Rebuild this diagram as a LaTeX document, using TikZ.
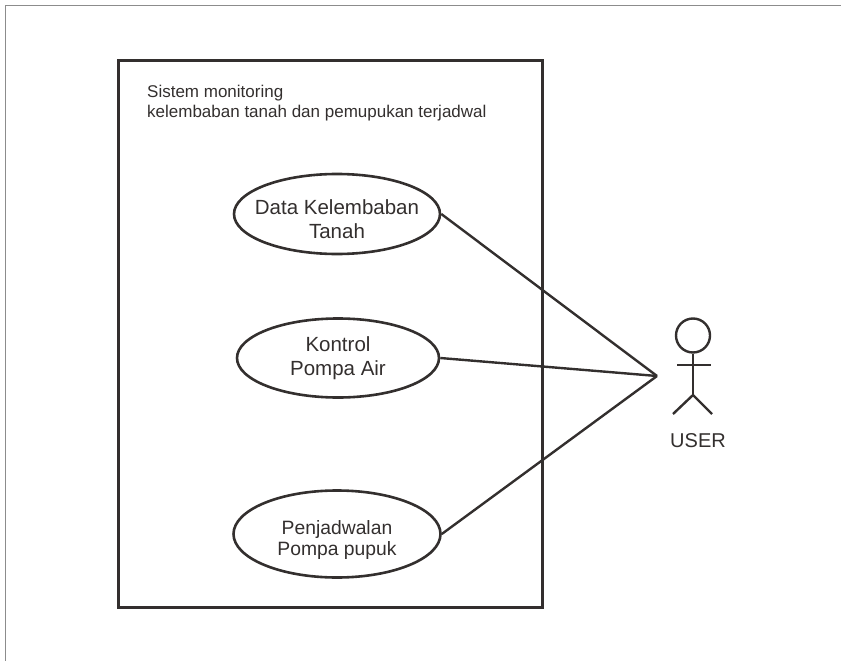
\documentclass[tikz,border=0pt]{standalone}
\usepackage{fontspec}
\setmainfont{Liberation Sans}
\usetikzlibrary{shapes.geometric}
\definecolor{inkline}{HTML}{332F2E}
\begin{document}
\begin{tikzpicture}[x=1pt,y=-1pt,
usecase/.style={draw=inkline,ellipse,line width=2.6pt,minimum width=#1,align=center,text=inkline,font=\fontsize{20.5}{24}\selectfont,inner sep=-30pt},
stick/.style={line width=2.4pt,draw=inkline}]
\useasboundingbox (0,0) rectangle (841,661);
\draw[line width=1pt,black!45] (841,5.5)--(5.5,5.5)--(5.5,661);
\node[draw=inkline,line width=3.8pt,minimum width=424pt,minimum height=547pt,inner sep=0pt] (system) at (330.5,334) {};
\node[anchor=north west,align=left,inner sep=0pt,text=inkline,font=\fontsize{17}{20}\selectfont] (title) at (147,85) {Sistem monitoring\\kelembaban tanah dan pemupukan terjadwal};
\node[usecase=206pt,minimum height=80pt] (data) at (337,214) {\rule{0pt}{26pt}Data Kelembaban\\Tanah};
\node[usecase=202pt,minimum height=79pt] (kontrol) at (338,358) {Kontrol\\Pompa Air};
\node[usecase=207pt,minimum height=87pt,font=\fontsize{19.3}{21.5}\selectfont] (jadwal) at (337,534) {\rule{0pt}{26pt}Penjadwalan\\Pompa pupuk};
\coordinate (hand) at (657,376);
\draw[stick] (data.east)--(hand);
\draw[stick] (kontrol.east)--(hand);
\draw[stick] (jadwal.east)--(hand);
\node[draw=inkline,circle,line width=2.4pt,minimum size=34pt,inner sep=0pt] (head) at (693,335.5) {};
\coordinate (hip) at (693,395);
\coordinate (armL) at (677,365);
\coordinate (armR) at (711,365);
\coordinate (footL) at (673,414);
\coordinate (footR) at (712,414);
\draw[stick] (head)--(hip);
\draw[stick] (armL)--(armR);
\draw[stick] (footL)--(hip)--(footR);
\node[text=inkline,font=\fontsize{20}{24}\selectfont] (user) at (698,441) {USER};
\end{tikzpicture}
\end{document}
